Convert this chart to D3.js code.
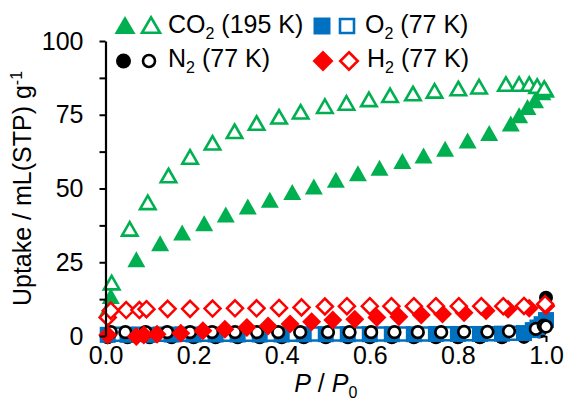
<!DOCTYPE html>
<html><head><meta charset="utf-8">
<script src="https://cdn.jsdelivr.net/npm/d3@7"></script>
<style>
html,body{margin:0;padding:0;background:#fff;}
svg text{font-family:"Liberation Sans",Arial,sans-serif;fill:#000;}
</style></head>
<body><svg id="c" width="568" height="409"></svg>
<script>
// ---- data ----
const co2AdsP = [0.004,0.012,0.070,0.124,0.174,0.224,0.273,0.323,0.373,0.424,0.473,0.523,0.573,0.622,0.674,0.722,0.771,0.822,0.871,0.920,0.939,0.958,0.975,0.992,1.000];
const co2AdsV = [9.0,13.6,26.0,31.4,35.1,38.2,41.2,43.9,46.2,48.8,50.7,53.0,55.2,57.0,59.3,61.2,63.5,66.3,68.8,72.0,74.8,77.6,79.9,82.6,83.5];
const co2DesP = [0.014,0.055,0.096,0.143,0.192,0.243,0.293,0.343,0.394,0.443,0.498,0.547,0.598,0.646,0.698,0.747,0.801,0.848,0.909,0.939,0.962,0.980,0.996];
const co2DesV = [18.1,36.3,45.3,54.4,60.7,65.5,69.4,72.2,74.3,76.0,77.9,79.0,80.2,81.6,82.2,83.1,83.9,84.5,85.4,85.4,85.4,84.7,84.0];

const n2AdsP = [0.005,0.050,0.100,0.150,0.200,0.250,0.300,0.350,0.400,0.450,0.500,0.550,0.600,0.650,0.700,0.750,0.800,0.850,0.900,0.950,0.985,1.000];
const n2AdsV = [-0.4,-0.4,-0.4,-0.4,-0.4,-0.4,-0.4,-0.4,-0.4,-0.4,-0.4,-0.4,-0.4,-0.4,-0.4,-0.4,-0.4,-0.4,-0.4,-0.3,1.5,13.0];
const n2DesP = [0.012,0.045,0.091,0.140,0.192,0.242,0.294,0.344,0.392,0.442,0.505,0.554,0.603,0.656,0.709,0.762,0.814,0.867,0.916,0.977,0.995,1.000];
const n2DesV = [1.3,1.3,1.3,1.3,1.3,1.3,1.3,1.3,1.3,1.3,1.3,1.3,1.3,1.3,1.3,1.3,1.4,1.4,1.6,2.4,3.5,3.2];

const o2AdsP = [0.005,0.050,0.100,0.150,0.200,0.250,0.300,0.350,0.400,0.450,0.500,0.550,0.600,0.650,0.700,0.750,0.800,0.850,0.900,0.950,0.970,0.990,1.000];
const o2AdsV = [0.4,0.4,0.4,0.5,0.5,0.5,0.5,0.5,0.5,0.6,0.6,0.6,0.6,0.6,0.6,0.7,0.7,0.7,0.8,1.0,2.0,4.0,5.4];
const o2DesP = [0.025,0.075,0.125,0.175,0.225,0.275,0.325,0.375,0.425,0.475,0.525,0.575,0.625,0.675,0.725,0.775,0.825,0.875,0.925,0.980];
const o2DesV = [0.6,0.6,0.6,0.6,0.6,0.6,0.6,0.6,0.6,0.7,0.7,0.7,0.7,0.7,0.7,0.8,0.8,0.8,0.9,3.0];

const h2AdsP = [0.005,0.070,0.087,0.117,0.171,0.221,0.271,0.321,0.369,0.419,0.468,0.516,0.566,0.616,0.666,0.717,0.765,0.814,0.864,0.914,0.962,1.000];
const h2AdsV = [0.3,-0.2,0.3,0.6,0.9,1.8,2.3,2.9,3.4,4.1,4.8,5.4,5.7,6.3,6.5,7.1,7.5,7.9,8.6,9.1,9.4,10.2];
const h2DesP = [0.005,0.012,0.047,0.077,0.093,0.141,0.192,0.243,0.294,0.343,0.394,0.445,0.498,0.548,0.600,0.649,0.700,0.750,0.802,0.853,0.903,0.950,0.998];
const h2DesV = [6.3,8.6,8.8,8.8,9.1,9.2,9.2,9.3,9.4,9.4,9.5,9.7,10.0,10.1,10.1,10.1,10.1,10.1,10.1,10.1,10.1,10.2,10.8];

const xTicks = [0,0.2,0.4,0.6,0.8,1.0];
const yTicks = [0,25,50,75,100];
const legendLabels = [["CO","2"," (195 K)"],["N","2"," (77 K)"],["O","2"," (77 K)"],["H","2"," (77 K)"]];

// ---- drawing ----
const GREEN="#00B050", BLUE="#0070C0", RED="#FF0000", BLACK="#000000";
const svg = d3.select("#c");
const x = d3.scaleLinear().domain([0,1]).range([105.5,546]);
const y = d3.scaleLinear().domain([0,100]).range([336,41]);

function tri(w,h){return `M0,${-h/2}L${w/2},${h/2}L${-w/2},${h/2}Z`;}
function sq(s){return `M${-s/2},${-s/2}h${s}v${s}h${-s}Z`;}
function dia(d){return `M0,${-d/2}L${d/2},0L0,${d/2}L${-d/2},0Z`;}
function circ(r){return `M${r},0A${r},${r} 0 1,1 ${-r},0A${r},${r} 0 1,1 ${r},0Z`;}

// x axis (line hidden under markers)
const xAxis = d3.axisBottom(x).tickValues(xTicks).tickFormat(d3.format(".1f")).tickSize(6).tickPadding(4).tickSizeOuter(0);
const gx = svg.append("g").attr("transform",`translate(0,${y(0)})`).call(xAxis);
gx.select(".domain").attr("stroke",BLACK).attr("stroke-width",2);
gx.selectAll(".tick line").attr("stroke",BLACK).attr("stroke-width",2);
gx.selectAll("text").style("font-size","25px").attr("fill",BLACK);

const plot = svg.append("g");
function series(P,V,shape,fill,stroke,sw){
  plot.append("g").selectAll("path").data(P.map((p,i)=>[p,V[i]])).join("path")
    .attr("transform",d=>`translate(${x(d[0])},${y(d[1])})`)
    .attr("d",shape).attr("fill",fill).attr("stroke",stroke).attr("stroke-width",sw);
}
series(n2AdsP,n2AdsV,circ(7),BLACK,"none",0);
series(o2DesP,o2DesV,sq(13),"#fff",BLUE,2.5);
series(o2AdsP,o2AdsV,sq(16),BLUE,"none",0);
series(n2DesP,n2DesV,circ(5.8),"#fff",BLACK,2.7);
series(co2AdsP,co2AdsV,tri(18,16),GREEN,"none",0);
series(co2DesP,co2DesV,tri(15.5,13.5),"#fff",GREEN,2.6);
series(h2AdsP,h2AdsV,dia(19),RED,"none",0);
series(h2DesP,h2DesV,dia(16),"#fff",RED,2.5);

// y axis
const yAxis = d3.axisLeft(y).tickValues(yTicks).tickSize(6).tickPadding(16).tickSizeOuter(0);
const gy = svg.append("g").attr("transform",`translate(${x(0)},0)`).call(yAxis);
gy.select(".domain").attr("stroke",BLACK).attr("stroke-width",2.2);
gy.selectAll(".tick line").attr("stroke",BLACK).attr("stroke-width",2);
gy.selectAll("text").style("font-size","25px").attr("fill",BLACK);
const yMinor = d3.axisLeft(y).tickValues([12.5,37.5,62.5,87.5]).tickSize(6).tickFormat("").tickSizeOuter(0);
const gym = svg.append("g").attr("transform",`translate(${x(0)},0)`).call(yMinor);
gym.select(".domain").remove();
gym.selectAll(".tick line").attr("stroke",BLACK).attr("stroke-width",2);

// axis titles
const yt = svg.append("text").attr("transform",`translate(31,${(y(0)+y(100))/2}) rotate(-90)`)
  .attr("text-anchor","middle").style("font-size","25px");
yt.append("tspan").text("Uptake / mL(STP) g");
yt.append("tspan").attr("dy",-9).style("font-size","16px").text("-1");

const xt = svg.append("text").attr("x",x(0.5)).attr("y",392).attr("text-anchor","middle").style("font-size","25px");
xt.append("tspan").style("font-style","italic").text("P");
xt.append("tspan").text(" / ");
xt.append("tspan").style("font-style","italic").text("P");
xt.append("tspan").attr("dy",6).style("font-size","16px").text("0");

// legend
const legend = [
  {fx:125,ox:151,cy:25,tx:168,ty:33,f:tri(21,18),o:tri(18,15.5),c:GREEN,lab:legendLabels[0]},
  {fx:123.5,ox:149,cy:61,tx:168,ty:67,f:circ(7.5),o:circ(6),c:BLACK,lab:legendLabels[1]},
  {fx:322,ox:347,cy:26,tx:365,ty:33,f:sq(17),o:sq(14),c:BLUE,lab:legendLabels[2]},
  {fx:323,ox:349,cy:61,tx:367,ty:67,f:dia(21),o:dia(17.5),c:RED,lab:legendLabels[3]}
];
const lg = svg.append("g");
legend.forEach(L=>{
  lg.append("path").attr("transform",`translate(${L.fx},${L.cy})`).attr("d",L.f).attr("fill",L.c);
  lg.append("path").attr("transform",`translate(${L.ox},${L.cy})`).attr("d",L.o).attr("fill","#fff").attr("stroke",L.c).attr("stroke-width",2.6);
  const t = lg.append("text").attr("x",L.tx).attr("y",L.ty).style("font-size","25px");
  t.append("tspan").text(L.lab[0]);
  t.append("tspan").attr("dy",6).style("font-size","16px").text(L.lab[1]);
  t.append("tspan").attr("dy",-6).text(L.lab[2]);
});
</script></body></html>
